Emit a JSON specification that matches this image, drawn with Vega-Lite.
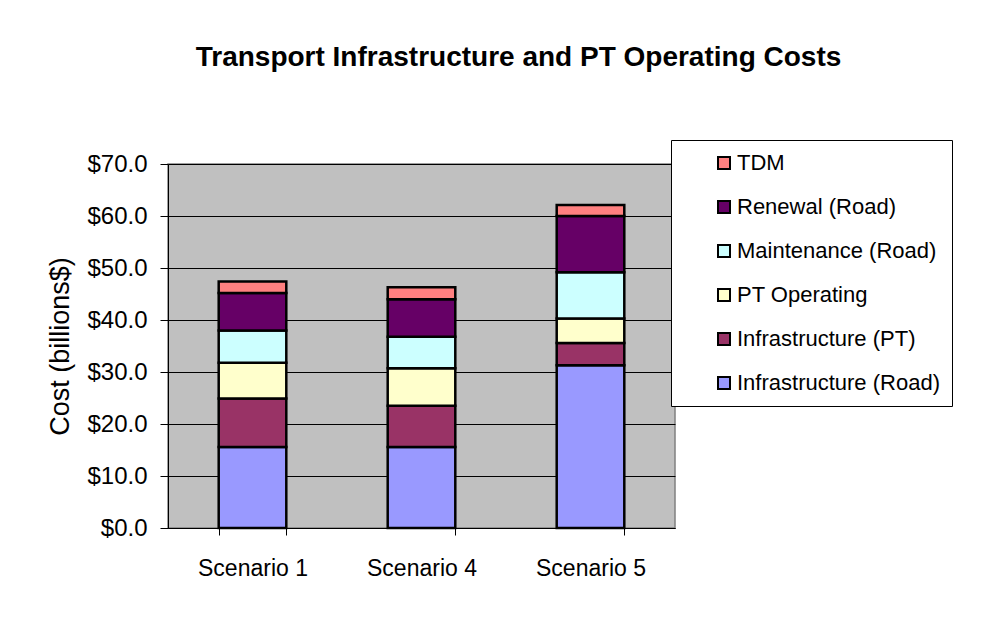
{
  "$schema": "https://vega.github.io/schema/vega-lite/v6.json",
  "autosize": "none",
  "width": 507,
  "height": 364,
  "padding": {"left": 168, "top": 164, "right": 331, "bottom": 91},
  "background": "white",
  "title": {
    "text": "Transport Infrastructure and PT Operating Costs",
    "font": "Liberation Sans",
    "fontSize": 28,
    "fontWeight": "bold",
    "color": "black",
    "anchor": "middle",
    "dx": 97,
    "offset": 68
  },
  "data": {
    "values": [
      {"scenario": "Scenario 1", "component": "Infrastructure (Road)", "order": 1, "cost": 15.6},
      {"scenario": "Scenario 1", "component": "Infrastructure (PT)", "order": 2, "cost": 9.3},
      {"scenario": "Scenario 1", "component": "PT Operating", "order": 3, "cost": 6.9},
      {"scenario": "Scenario 1", "component": "Maintenance (Road)", "order": 4, "cost": 6.2},
      {"scenario": "Scenario 1", "component": "Renewal (Road)", "order": 5, "cost": 7.2},
      {"scenario": "Scenario 1", "component": "TDM", "order": 6, "cost": 2.2},
      {"scenario": "Scenario 4", "component": "Infrastructure (Road)", "order": 1, "cost": 15.6},
      {"scenario": "Scenario 4", "component": "Infrastructure (PT)", "order": 2, "cost": 7.9},
      {"scenario": "Scenario 4", "component": "PT Operating", "order": 3, "cost": 7.2},
      {"scenario": "Scenario 4", "component": "Maintenance (Road)", "order": 4, "cost": 6.1},
      {"scenario": "Scenario 4", "component": "Renewal (Road)", "order": 5, "cost": 7.2},
      {"scenario": "Scenario 4", "component": "TDM", "order": 6, "cost": 2.3},
      {"scenario": "Scenario 5", "component": "Infrastructure (Road)", "order": 1, "cost": 31.3},
      {"scenario": "Scenario 5", "component": "Infrastructure (PT)", "order": 2, "cost": 4.3},
      {"scenario": "Scenario 5", "component": "PT Operating", "order": 3, "cost": 4.7},
      {"scenario": "Scenario 5", "component": "Maintenance (Road)", "order": 4, "cost": 8.9},
      {"scenario": "Scenario 5", "component": "Renewal (Road)", "order": 5, "cost": 10.8},
      {"scenario": "Scenario 5", "component": "TDM", "order": 6, "cost": 2.1}
    ]
  },
  "mark": {"type": "bar", "stroke": "black", "strokeWidth": 2.5},
  "encoding": {
    "x": {
      "field": "scenario",
      "type": "nominal",
      "scale": {"paddingInner": 0.6, "paddingOuter": 0.3},
      "axis": {
        "title": null,
        "labelAngle": 0,
        "labelFont": "Liberation Sans",
        "labelFontSize": 23,
        "labelColor": "black",
        "labelPadding": 22,
        "domainColor": "black",
        "tickColor": "black",
        "tickSize": 7,
        "tickBand": "extent",
        "grid": false
      }
    },
    "y": {
      "field": "cost",
      "type": "quantitative",
      "aggregate": "sum",
      "stack": "zero",
      "scale": {"domain": [0, 70]},
      "axis": {
        "title": "Cost (billions$)",
        "titleFont": "Liberation Sans",
        "titleFontSize": 27,
        "titleFontWeight": "normal",
        "titleColor": "black",
        "titlePadding": 12,
        "values": [0, 10, 20, 30, 40, 50, 60, 70],
        "format": "$.1f",
        "labelFont": "Liberation Sans",
        "labelFontSize": 24,
        "labelColor": "black",
        "labelPadding": 13,
        "domainColor": "black",
        "tickColor": "black",
        "tickSize": 8,
        "gridColor": "black",
        "gridWidth": 1,
        "gridOpacity": 1
      }
    },
    "color": {
      "field": "component",
      "type": "nominal",
      "scale": {
        "domain": ["TDM", "Renewal (Road)", "Maintenance (Road)", "PT Operating", "Infrastructure (PT)", "Infrastructure (Road)"],
        "range": ["#FF8080", "#660066", "#CCFFFF", "#FFFFCC", "#993366", "#9999FF"]
      },
      "legend": {
        "title": null,
        "orient": "none",
        "legendX": 503,
        "legendY": -24,
        "fillColor": "white",
        "strokeColor": "black",
        "padding": 12,
        "symbolType": "square",
        "symbolSize": 144,
        "symbolStrokeColor": "black",
        "symbolStrokeWidth": 2,
        "symbolOffset": 30,
        "labelFont": "Liberation Sans",
        "labelFontSize": 22,
        "labelColor": "black",
        "labelOffset": 2,
        "labelLimit": 300,
        "rowPadding": 22
      }
    },
    "order": {"field": "order", "type": "quantitative", "sort": "ascending"}
  },
  "config": {
    "view": {"fill": "#C0C0C0", "stroke": "#808080", "strokeWidth": 1.5}
  }
}
